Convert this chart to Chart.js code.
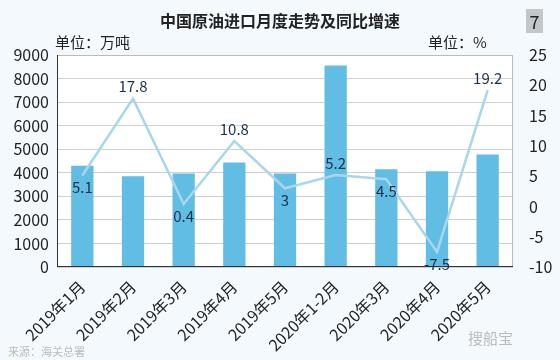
<!DOCTYPE html>
<html>
<head>
<meta charset="utf-8">
<script src="https://cdn.jsdelivr.net/npm/chart.js@4"></script>
<style>
  body{margin:0;background:#f4f9fd;font-family:"Noto Sans CJK SC",sans-serif;}
  .wrap{position:relative;width:560px;height:360px;}
  .title{position:absolute;left:0;top:8px;width:560px;text-align:center;font-size:16px;font-weight:bold;color:#222;}
  .num{position:absolute;left:526px;top:9px;width:17px;height:24px;background:#c4c7ca;text-align:center;font-size:18px;line-height:24px;color:#222;}
  .u1{position:absolute;left:55px;top:31px;font-size:15px;color:#222;}
  .u2{position:absolute;left:428px;top:31px;font-size:15px;color:#222;}
  .wm{position:absolute;left:468px;top:327px;font-size:15px;color:#bbb;}
  .src{position:absolute;left:8px;top:343px;font-size:11px;color:#bbb;}
</style>
</head>
<body>
<div class="wrap">
  <canvas id="myChart" width="560" height="360"></canvas>
  <div class="title">中国原油进口月度走势及同比增速</div>
  <div class="num">7</div>
  <div class="u1">单位：万吨</div>
  <div class="u2">单位：%</div>
  <div class="wm">搜船宝</div>
  <div class="src">来源：海关总署</div>
</div>
<script>
// 가로축 라벨
const labels = ['2019年1月','2019年2月','2019年3月','2019年4月','2019年5月','2020年1-2月','2020年3月','2020年4月','2020年5月'];
// 원유수입량(만톤)
const imports = [4300, 3850, 3970, 4440, 3970, 8550, 4150, 4060, 4780];
// 전년동기대비 증가율(%)
const growth = [5.1, 17.8, 0.4, 10.8, 3, 5.2, 4.5, -7.5, 19.2];
const leftTicks = [0,1000,2000,3000,4000,5000,6000,7000,8000,9000];
const rightTicks = [-10,-5,0,5,10,15,20,25];

// 라벨 위/아래 위치
const labelSide = ['below','above','below','above','below','above','below','below','above'];

const bgPlugin = {
  id:'bg',
  beforeDraw(chart){
    const {ctx, chartArea:a} = chart;
    ctx.save();
    ctx.fillStyle = '#ffffff';
    ctx.fillRect(a.left, a.top, a.right-a.left, a.bottom-a.top);
    ctx.restore();
  },
  afterDraw(chart){
    const {ctx, chartArea:a} = chart;
    ctx.save();
    ctx.strokeStyle = '#bbbbbb';
    ctx.lineWidth = 1;
    ctx.beginPath();
    ctx.moveTo(a.left, a.top+0.5); ctx.lineTo(a.right, a.top+0.5);
    ctx.moveTo(a.right-0.5, a.top); ctx.lineTo(a.right-0.5, a.bottom);
    ctx.stroke();
    ctx.strokeStyle = '#333333';
    ctx.beginPath();
    ctx.moveTo(a.left+0.5, a.top); ctx.lineTo(a.left+0.5, a.bottom);
    ctx.moveTo(a.left, a.bottom-0.5); ctx.lineTo(a.right, a.bottom-0.5);
    ctx.stroke();
    // 꺾은선 값 라벨
    const meta = chart.getDatasetMeta(1);
    ctx.font = '15px "Noto Sans CJK SC", sans-serif';
    ctx.fillStyle = '#1c2f4a';
    ctx.textAlign = 'center';
    ctx.textBaseline = 'middle';
    meta.data.forEach((p,i)=>{
      const dy = labelSide[i]=='above' ? -12 : 12;
      ctx.fillText(String(growth[i]), p.x, p.y+dy);
    });
    ctx.restore();
  }
};

new Chart(document.getElementById('myChart'), {
  type:'bar',
  data:{
    labels: labels,
    datasets:[
      {
        type:'bar',
        label:'进口量',
        data: imports,
        backgroundColor:'#62bde5',
        barPercentage:0.44,
        categoryPercentage:1,
        yAxisID:'y',
        order:2
      },
      {
        type:'line',
        label:'同比',
        data: growth,
        borderColor:'#a9d6ea',
        borderWidth:2.5,
        pointRadius:0,
        tension:0,
        yAxisID:'y1',
        order:1
      }
    ]
  },
  options:{
    responsive:false,
    animation:false,
    layout:{padding:{left:6, right:0, top:55, bottom:0}},
    plugins:{legend:{display:false}, tooltip:{enabled:false}},
    scales:{
      x:{
        grid:{display:false},
        border:{display:false},
        afterFit(ax){ ax.height = 93; },
        ticks:{color:'#222', font:{size:16, family:'"Noto Sans CJK SC"'}, maxRotation:45, minRotation:45, padding:2}
      },
      y:{
        position:'left', min:0, max:9000,
        afterBuildTicks(ax){ ax.ticks = leftTicks.map(v=>({value:v})); },
        afterFit(ax){ ax.width = 51; },
        grid:{color:'#d0d0d0', drawTicks:false},
        border:{display:false},
        ticks:{color:'#222', font:{size:16, family:'"Noto Sans CJK SC"'}, padding:8, callback:(v)=>String(v)}
      },
      y1:{
        position:'right', min:-10, max:25,
        afterBuildTicks(ax){ ax.ticks = rightTicks.map(v=>({value:v})); },
        afterFit(ax){ ax.width = 47; },
        grid:{display:false},
        border:{display:false},
        ticks:{color:'#222', font:{size:16, family:'"Noto Sans CJK SC"'}, padding:8, callback:(v)=>String(v)}
      }
    }
  },
  plugins:[bgPlugin]
});
</script>
</body>
</html>
